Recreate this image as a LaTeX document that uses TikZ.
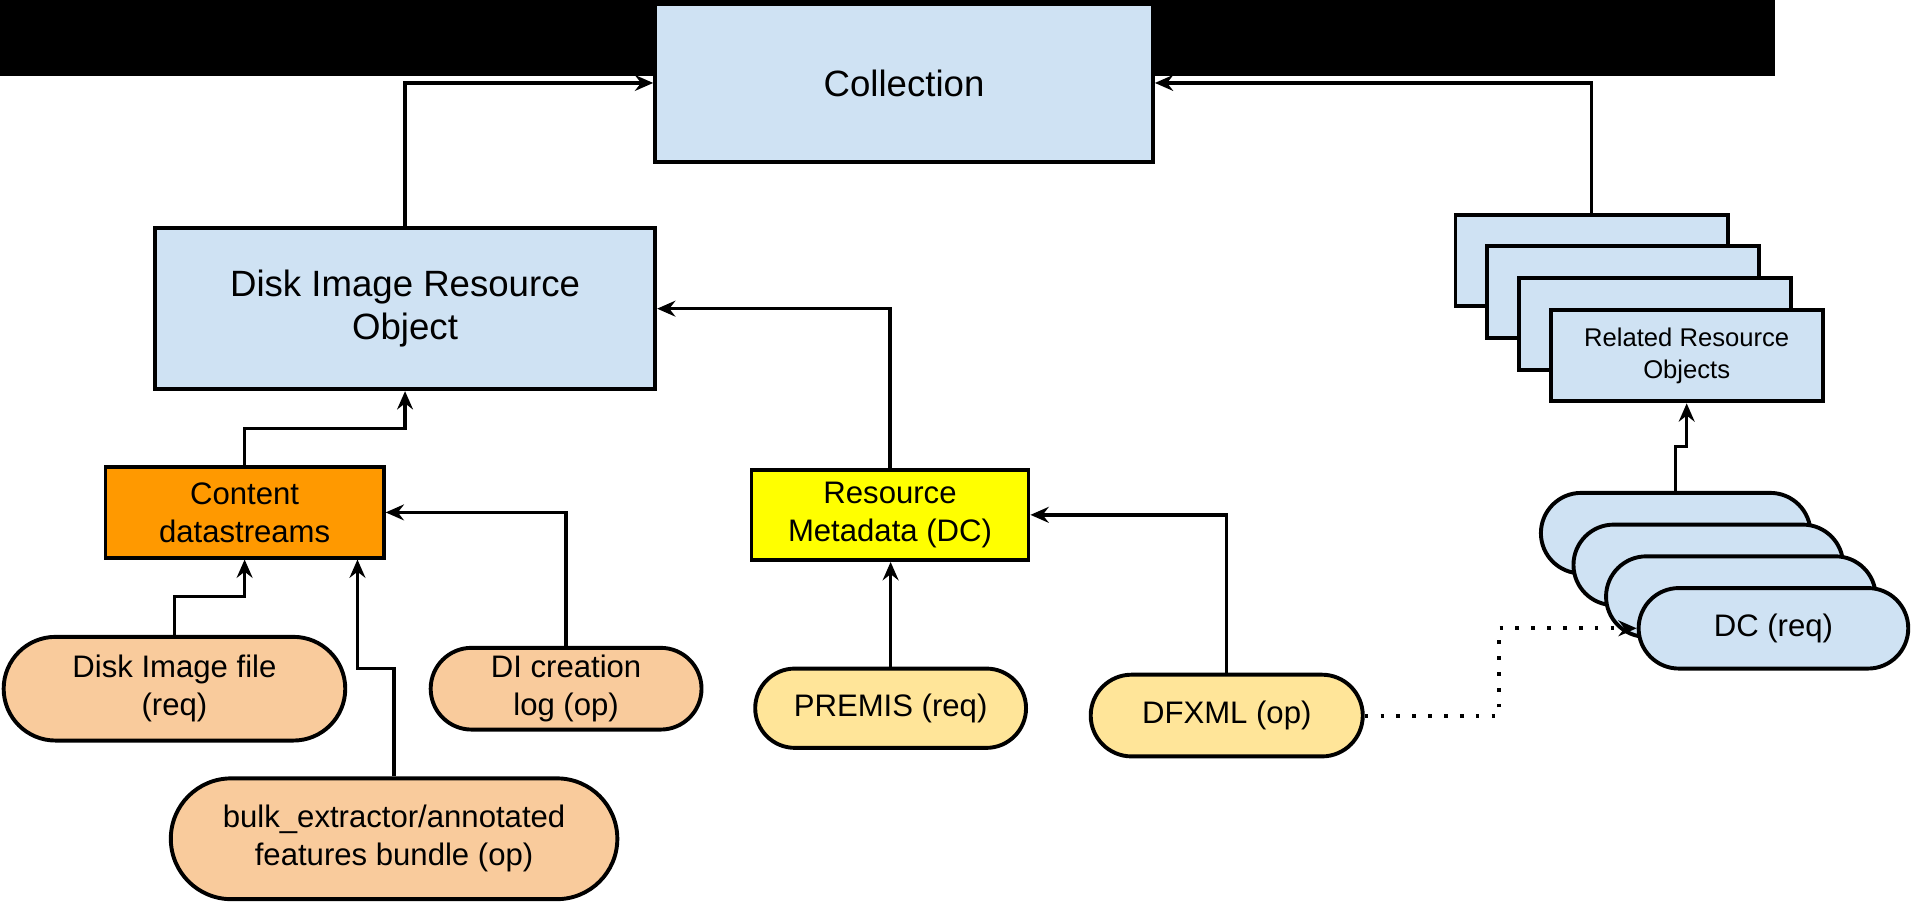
\documentclass[tikz,border=0pt]{standalone}
\usepackage{fontspec}
\setmainfont{Liberation Sans}
\usetikzlibrary{arrows.meta,shapes.misc}
\definecolor{lblue}{HTML}{CFE2F3}
\definecolor{dsorange}{HTML}{FF9900}
\definecolor{rmyellow}{HTML}{FFFF00}
\definecolor{lorange}{HTML}{F9CB9C}
\definecolor{lyellow}{HTML}{FFE599}
\begin{document}
\begin{tikzpicture}[x=1pt,y=-1pt,
  box/.style={draw=black, line width=3.2pt, rectangle, inner sep=0pt, align=center},
  pill/.style={draw=black, line width=3.2pt, rounded rectangle, inner sep=0pt, align=center},
  conn/.style={line width=2.8pt, -{Stealth[length=15pt,width=13pt,inset=5pt]}},
  dotconn/.style={line width=3.2pt, dash pattern=on 3pt off 10pt, -{Stealth[length=15pt,width=13pt,inset=5pt]}},
  big/.style={font=\fontsize{30}{35}\selectfont},
  mid/.style={font=\fontsize{25.5}{31}\selectfont},
  small/.style={font=\fontsize{21}{26}\selectfont}]
\useasboundingbox (0,0) rectangle (1568,743);
\fill[black] (0,0) rectangle (1455,62);

% main boxes
\node[box, fill=lblue, minimum width=408pt, minimum height=130pt, big] (coll) at (741,68) {Collection};
\node[box, fill=lblue, minimum width=410pt, minimum height=132pt, big] (dio) at (332,253) {Disk Image Resource\\Object};
\node[box, fill=dsorange, minimum width=228pt, minimum height=74pt, mid] (cds) at (200.5,420) {Content\\datastreams};
\node[box, fill=rmyellow, minimum width=227pt, minimum height=74pt, mid] (rmd) at (729.5,422) {Resource\\Metadata (DC)};

% related resource objects stack
\node[box, fill=lblue, minimum width=223pt, minimum height=75pt] (rr0) at (1304.5,213.5) {};
\node[box, fill=lblue, minimum width=223pt, minimum height=75pt] (rr1) at (1330.5,239.5) {};
\node[box, fill=lblue, minimum width=223pt, minimum height=75pt] (rr2) at (1356.5,265.5) {};
\node[box, fill=lblue, minimum width=223pt, minimum height=75pt, small] (rr3) at (1382.5,291.5) {Related Resource\\Objects};

% DC stack
\node[pill, fill=lblue, minimum width=221pt, minimum height=66pt] (dc0) at (1373.5,437) {};
\node[pill, fill=lblue, minimum width=221pt, minimum height=66pt] (dc1) at (1400.2,463) {};
\node[pill, fill=lblue, minimum width=221pt, minimum height=66pt] (dc2) at (1426.9,489) {};
\node[pill, fill=lblue, minimum width=221pt, minimum height=66pt, mid] (dc3) at (1453.6,515) {DC (req)};

% datastream sources
\node[pill, fill=lorange, minimum width=280pt, minimum height=85pt, mid] (dif) at (143,564.5) {Disk Image file\\(req)};
\node[pill, fill=lorange, minimum width=222pt, minimum height=67pt, mid] (dil) at (464,564.5) {DI creation\\log (op)};
\node[pill, fill=lorange, minimum width=366pt, minimum height=99pt, mid] (bulk) at (323,687.5) {bulk\_extractor/annotated\\features bundle (op)};
\node[pill, fill=lyellow, minimum width=222pt, minimum height=65pt, mid] (prem) at (730,580.5) {PREMIS (req)};
\node[pill, fill=lyellow, minimum width=223pt, minimum height=67pt, mid] (dfx) at (1005.5,586.5) {DFXML (op)};

% junction coordinates
\coordinate (j1) at (0,351);
\coordinate (j2) at (0,489);
\coordinate (j3) at (293,548);
\coordinate (j4) at (0,366);
\coordinate (j5) at (1229,0);

% connectors
\draw[conn] (dio.north) |- (coll.west);
\draw[conn] (rr0.north) |- (coll.east);
\draw[conn] (rmd.north) |- (dio.east);
\draw[conn] (cds.north) -- (cds.north |- j1) -- (dio.south |- j1) -- (dio.south);
\draw[conn] (dif.north) -- (dif.north |- j2) -- (cds.south |- j2) -- (cds.south);
\draw[conn] (bulk.north) |- (j3) -- (j3 |- cds.south);
\draw[conn] (dil.north) |- (cds.east);
\draw[conn] (prem.north) -- (prem.north |- rmd.south);
\draw[conn] (dfx.north) |- (rmd.east);
\draw[conn] (dc0.north) -- (dc0.north |- j4) -- (rr3.south |- j4) -- (rr3.south);
\draw[dotconn] (dfx.east) -- (dfx.east -| j5) -- (j5 |- dc3.west) -- (dc3.west);
\end{tikzpicture}
\end{document}
